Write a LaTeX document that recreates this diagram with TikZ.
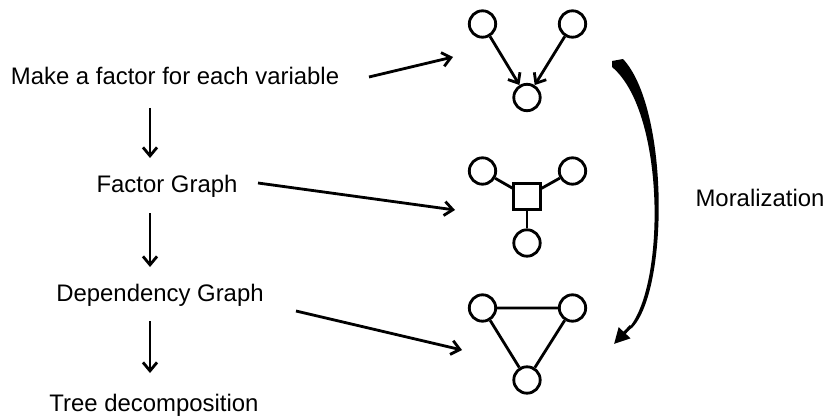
\documentclass[tikz,border=0pt]{standalone}
\usepackage{fontspec}
\setmainfont{Liberation Sans}
\usetikzlibrary{positioning,calc,arrows.meta,shapes.geometric}

\tikzset{
	varnode/.style={circle, draw, line width=2pt, fill=white, minimum size=0.66cm, inner sep=0},
	facnode/.style={rectangle, draw, line width=2pt, fill=white, minimum size=0.66cm, inner sep=0},
	lbl/.style={font=\fontsize{17}{20}\selectfont, inner sep=1pt},
	flow/.style={line width=2pt, -{Straight Barb[length=6pt,width=10pt,line width=2pt]}},
	edge/.style={line width=2pt}
}

\begin{document}
\begin{tikzpicture}[x=0.025cm, y=-0.025cm]
	\useasboundingbox (0,0) rectangle (829,420);
	% steps on the left
	\node[lbl] (mk) at (175,76) {Make a factor for each variable};
	\node[lbl] (fg) at (167,186) {Factor Graph};
	\node[lbl] (dg) at (160,295) {Dependency Graph};
	\node[lbl] (td) at (154,405) {Tree decomposition};
	\coordinate (a1) at (150,108); \coordinate (b1) at (150,158);
	\coordinate (a2) at (150,213); \coordinate (b2) at (150,267);
	\coordinate (a3) at (150,321); \coordinate (b3) at (150,373);
	\draw[flow] (a1) -- (b1);
	\draw[flow] (a2) -- (b2);
	\draw[flow] (a3) -- (b3);

	% directed graph
	\node[varnode] (p1) at (482.5,24) {};
	\node[varnode] (p2) at (572.5,24) {};
	\node[varnode] (c1) at (527,97.5) {};
	\draw[flow] (p1) -- (c1);
	\draw[flow] (p2) -- (c1);

	% factor graph
	\node[varnode] (f1) at (482.5,171) {};
	\node[varnode] (f2) at (572.5,171) {};
	\node[varnode] (f3) at (527,243) {};
	\node[facnode] (fx) at (527,196.5) {};
	\draw[edge] (f1) -- (fx);
	\draw[edge] (f2) -- (fx);
	\draw[edge] (f3) -- (fx);

	% dependency graph
	\node[varnode] (d1) at (482.5,308) {};
	\node[varnode] (d2) at (572.5,308) {};
	\node[varnode] (d3) at (527,380) {};
	\draw[edge] (d1) -- (d2) -- (d3) -- (d1);

	% links to the pictures
	\coordinate (s1) at (369,77); \coordinate (t1) at (453,57);
	\coordinate (s2) at (258,183); \coordinate (t2) at (455,210);
	\coordinate (s3) at (296,311); \coordinate (t3) at (462,350);
	\draw[flow] (s1) -- (t1);
	\draw[flow] (s2) -- (t2);
	\draw[flow] (s3) -- (t3);

	% moralization
	\coordinate (m1) at (617,61);
	\coordinate (m2) at (614,344);
	\fill (612,61) -- (623,59) .. controls (669,108) and (669,290) .. (632,328)
		-- (627,330) .. controls (666,290) and (666,112) .. (612,67) -- cycle;
	\draw[line width=2.2pt, -{Triangle[length=11pt,width=11pt]}] (631,326) -- (m2);
	\node[lbl] (mor) at (760,198) {Moralization};
\end{tikzpicture}
\end{document}
